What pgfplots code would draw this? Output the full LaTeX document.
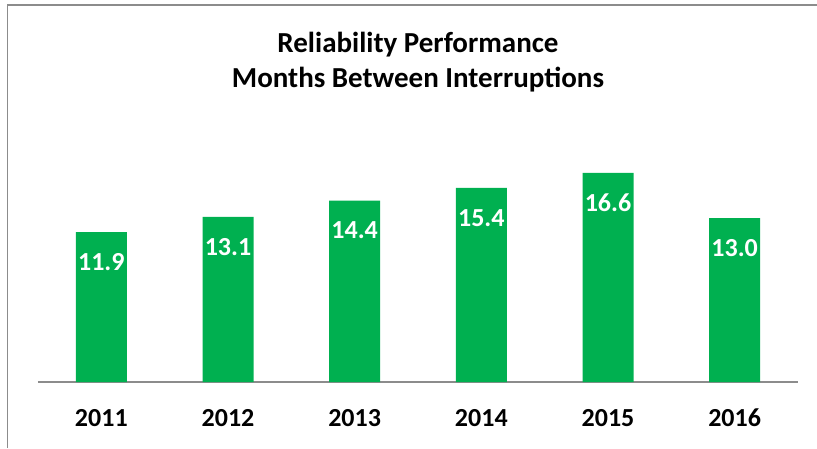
\documentclass[border=0pt]{standalone}
\usepackage{pgfplots}
\pgfplotsset{compat=1.18}
\usepackage{fontspec}
\setmainfont{Carlito}
\definecolor{bargreen}{HTML}{00B050}
\definecolor{framegray}{HTML}{8C8C8C}
\begin{document}
\begin{tikzpicture}
\useasboundingbox (0,0) rectangle (817pt,448pt);
% outer frame (left and top edges visible)
\draw[framegray, line width=1.5pt] (7.5pt,0) -- (7.5pt,443pt) -- (817pt,443pt);
% title
\node[align=center, font=\fontsize{29}{35}\selectfont\bfseries] at (418pt,385.5pt)
  {Reliability Performance\\Months Between Interruptions};
\begin{axis}[
    at={(38pt,66pt)}, anchor=south west,
    scale only axis,
    width=760pt, height=327.6pt,
    xmin=-0.5, xmax=5.5,
    ymin=0, ymax=26,
    axis x line=bottom,
    axis y line=none,
    x axis line style={-, framegray, line width=1.5pt},
    xtick={0,1,2,3,4,5},
    xticklabels={2011,2012,2013,2014,2015,2016},
    major tick length=0pt,
    xticklabel style={anchor=center, yshift=-36pt, font=\fontsize{26}{30}\selectfont\bfseries},
    ybar,
    bar width=51pt,
    clip=false,
    nodes near coords={\pgfmathprintnumber[fixed,zerofill,precision=1,assume math mode=true]{\pgfplotspointmeta}},
    every node near coord/.append style={anchor=center, yshift=-30pt, text=white,
        font=\fontsize{26}{30}\selectfont\bfseries},
]
\addplot[fill=bargreen, draw=none] coordinates {
    (0,11.9) (1,13.1) (2,14.4) (3,15.4) (4,16.6) (5,13.0)};
\end{axis}
\end{tikzpicture}
\end{document}
